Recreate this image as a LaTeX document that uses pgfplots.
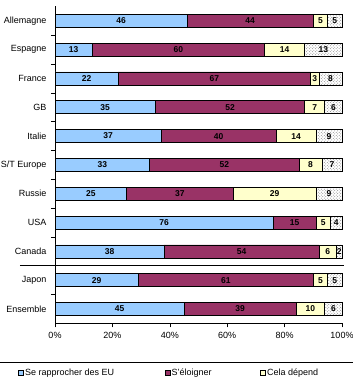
\documentclass[border=0pt]{standalone}
\usepackage{pgfplots}
\pgfplotsset{compat=1.18}
\usepackage{pgfplotstable}
\usepackage{fontspec}
\setmainfont{Liberation Sans}
\usetikzlibrary{patterns}
\definecolor{cblue}{HTML}{99CCFF}
\definecolor{cmaroon}{HTML}{993366}
\definecolor{cyellow}{HTML}{FFFFCC}

\pgfplotstableread{
a b c d
46 44 5 5
13 60 14 13
22 67 3 8
35 52 7 6
37 40 14 9
33 52 8 7
25 37 29 9
76 15 5 4
38 54 6 2
29 61 5 5
45 39 10 6
}\datatable

\begin{document}
\begin{tikzpicture}
\pgfplotsset{
  common/.style={
    scale only axis, width=287bp, height=317bp,
    xmin=0, xmax=100, ymin=-0.5, ymax=10.5,
    /pgf/number format/assume math mode=true,
  }
}
\begin{axis}[
  common,
  xbar stacked, bar width=13bp,
  axis x line*=bottom, axis y line*=left,
  axis line style={line width=0.8bp},
  tick align=outside,
  major tick length=4bp, minor tick length=4bp,
  xtick={0,20,...,100},
  xticklabel={\pgfmathprintnumber{\tick}\%},
  ytick={0,...,10},
  yticklabels={Ensemble,Japon,Canada,USA,Russie,S/T Europe,Italie,GB,France,Espagne,Allemagne},
  minor ytick={0.5,1.5,...,9.5},
  major y tick style={draw=none},
  tick style={line width=0.6bp, black},
  ticklabel style={font=\fontsize{9bp}{10bp}\selectfont},
  yticklabel style={xshift=-1bp},
  xticklabel style={yshift=-1bp},
  clip=false,
  legend columns=3,
  legend style={at={(-37bp,-49.6bp)}, anchor=west, draw=none, fill=none,
    font=\fontsize{9bp}{10bp}\selectfont, inner sep=0pt, column sep=0pt,
    nodes={inner sep=1.5bp}},
  legend image code/.code={\draw[#1, line width=0.5bp] (0bp,-2.5bp) rectangle (5bp,2.5bp);},
  legend cell align=left,
]
\addplot[fill=cblue, draw=black, line width=0.6bp] table[x=a, y expr=10-\coordindex] {\datatable};
\addplot[fill=cmaroon, draw=black, line width=0.6bp] table[x=b, y expr=10-\coordindex] {\datatable};
\addplot[fill=cyellow, draw=black, line width=0.6bp] table[x=c, y expr=10-\coordindex] {\datatable};
\addplot[pattern=crosshatch dots, pattern color=gray, draw=black, line width=0.6bp] table[x=d, y expr=10-\coordindex] {\datatable};
\legend{\makebox[138bp][l]{Se rapprocher des EU},\makebox[87bp][l]{S'éloigner},Cela dépend}
\draw[line width=0.8bp] (axis cs:-12.2,1.5) -- (axis cs:100.8,1.5);
\end{axis}
\begin{axis}[
  common, hide axis,
  nodes near coords={\pgfmathprintnumber{\pgfplotspointmeta}},
  point meta=explicit,
  every node near coord/.append style={anchor=center, inner sep=0pt,
    font=\bfseries\fontsize{8.5bp}{9bp}\selectfont, text=black},
]
\addplot[draw=none, mark=none] table[x expr=\thisrow{a}/2, y expr=10-\coordindex, meta=a] {\datatable};
\addplot[draw=none, mark=none] table[x expr=\thisrow{a}+\thisrow{b}/2, y expr=10-\coordindex, meta=b] {\datatable};
\addplot[draw=none, mark=none] table[x expr=\thisrow{a}+\thisrow{b}+\thisrow{c}/2, y expr=10-\coordindex, meta=c] {\datatable};
\addplot[draw=none, mark=none] table[x expr=\thisrow{a}+\thisrow{b}+\thisrow{c}+\thisrow{d}/2, y expr=10-\coordindex, meta=d] {\datatable};
\end{axis}
\draw[line width=0.8bp] (-54.6bp,-38.6bp) -- (297.6bp,-38.6bp);
\pgfresetboundingbox
\useasboundingbox (-55bp,-58.6bp) rectangle (298bp,323.4bp);
\end{tikzpicture}
\end{document}
